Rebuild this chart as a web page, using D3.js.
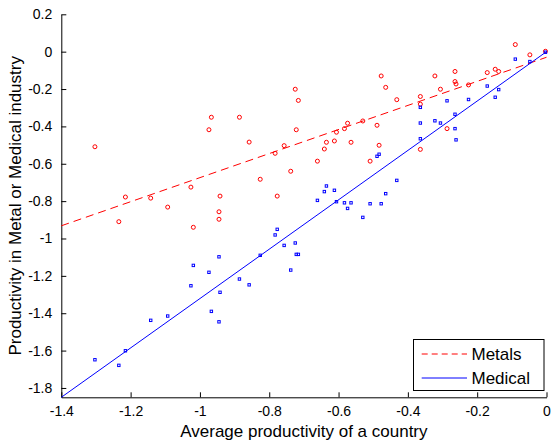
<!DOCTYPE html>
<html>
<head>
<meta charset="utf-8">
<script src="https://cdn.jsdelivr.net/npm/d3@7"></script>
<style>
  html, body { margin: 0; padding: 0; background: #fff; }
  svg { display: block; font-family: "Liberation Sans", Arial, sans-serif; }
</style>
</head>
<body>
<svg id="chart" width="552" height="441"></svg>
<script>
// ---- data ----
const avgProductivity = [
  -1.303, -1.234, -1.215, -1.142, -1.093, -1.026, -1.019, -0.974, -0.967, -0.945,
  -0.945, -0.942, -0.886, -0.858, -0.826, -0.783, -0.777, -0.757, -0.738, -0.725,
  -0.722, -0.716, -0.661, -0.641, -0.635, -0.612, -0.606, -0.583, -0.574, -0.564,
  -0.530, -0.509, -0.489, -0.483, -0.477, -0.464, -0.432, -0.364, -0.364, -0.364,
  -0.322, -0.306, -0.287, -0.264, -0.264, -0.261, -0.225, -0.171, -0.148, -0.138,
  -0.090, -0.048, -0.003
];
const metalsValues = [
  -0.509, -0.910, -0.778, -0.784, -0.832, -0.725, -0.940, -0.418, -0.351, -0.857,
  -0.897, -0.773, -0.351, -0.484, -0.683, -0.544, -0.773, -0.503, -0.640, -0.201,
  -0.418, -0.261, -0.586, -0.521, -0.485, -0.478, -0.431, -0.412, -0.383, -0.485,
  -0.371, -0.586, -0.394, -0.501, -0.130, -0.191, -0.257, -0.240, -0.281, -0.523,
  -0.130, -0.201, -0.412, -0.106, -0.160, -0.173, -0.178, -0.112, -0.094, -0.106,
   0.038, -0.017,  0.002
];
const medicalValues = [
  -1.649, -1.679, -1.601, -1.438, -1.415, -1.253, -1.144, -1.181, -1.390, -1.098,
  -1.446, -1.288, -1.217, -1.248, -1.090, -0.981, -0.951, -1.037, -1.169, -1.024,
  -1.085, -1.085, -0.796, -0.749, -0.719, -0.742, -0.803, -0.809, -0.839, -0.809,
  -0.887, -0.814, -0.560, -0.549, -0.814, -0.760, -0.689, -0.298, -0.382, -0.466,
  -0.370, -0.382, -0.263, -0.335, -0.412, -0.472, -0.256, -0.184, -0.244, -0.203,
  -0.040, -0.053, -0.003
];
// fitted lines (endpoints)
const fitX = [-1.4, 0];
const metalsFit = [-0.932, -0.030];
const medicalFit = [-1.85, 0.0];

const xTicks = [-1.4, -1.2, -1.0, -0.8, -0.6, -0.4, -0.2, 0];
const xTickLabels = ["-1.4", "-1.2", "-1", "-0.8", "-0.6", "-0.4", "-0.2", "0"];
const yTicks = [0.2, 0, -0.2, -0.4, -0.6, -0.8, -1.0, -1.2, -1.4, -1.6, -1.8];
const yTickLabels = ["0.2", "0", "-0.2", "-0.4", "-0.6", "-0.8", "-1", "-1.2", "-1.4", "-1.6", "-1.8"];

const seriesNames = ["Metals", "Medical"];
const xTitle = "Average productivity of a country";
const yTitle = "Productivity in Metal or Medical industry";

// ---- layout ----
const plot = { left: 61.3, right: 546.5, top: 14.3, bottom: 397.3 };
const RED = "#ff0000", BLUE = "#0000ff";

const svg = d3.select("#chart");
const x = d3.scaleLinear().domain([-1.4, 0]).range([plot.left, plot.right]);
const y = d3.scaleLinear().domain([-1.85, 0.2]).range([plot.bottom, plot.top]);

// axes (ticks inward, MATLAB style)
const xAxis = d3.axisBottom(x).tickValues(xTicks)
  .tickFormat((d, i) => xTickLabels[i]).tickSizeInner(-5).tickSizeOuter(0).tickPadding(9);
const yAxis = d3.axisLeft(y).tickValues(yTicks)
  .tickFormat((d, i) => yTickLabels[i]).tickSizeInner(-5).tickSizeOuter(0).tickPadding(9);

const gx = svg.append("g").attr("transform", `translate(0,${plot.bottom})`).call(xAxis);
const gy = svg.append("g").attr("transform", `translate(${plot.left},0)`).call(yAxis);
[gx, gy].forEach(g => {
  g.selectAll("text").attr("font-size", 14).attr("fill", "#000")
    .attr("font-family", "'Liberation Sans', Arial, sans-serif");
  g.selectAll("line").attr("stroke", "#000");
  g.select(".domain").attr("stroke", "#000");
});

// fit lines
const line = d3.line().x(d => x(d[0])).y(d => y(d[1]));
svg.append("path").datum(fitX.map((v, i) => [v, metalsFit[i]]))
  .attr("d", line).attr("fill", "none").attr("stroke", RED)
  .attr("stroke-width", 1).attr("stroke-dasharray", "8,5");
svg.append("path").datum(fitX.map((v, i) => [v, medicalFit[i]]))
  .attr("d", line).attr("fill", "none").attr("stroke", BLUE).attr("stroke-width", 1);

// points
svg.append("g").selectAll("circle").data(avgProductivity.map((v, i) => [v, metalsValues[i]]))
  .join("circle")
  .attr("cx", d => x(d[0])).attr("cy", d => y(d[1])).attr("r", 2)
  .attr("fill", "none").attr("stroke", RED).attr("stroke-width", 1);

const sq = 2.4;
svg.append("g").selectAll("rect").data(avgProductivity.map((v, i) => [v, medicalValues[i]]))
  .join("rect")
  .attr("x", d => x(d[0]) - sq / 2).attr("y", d => y(d[1]) - sq / 2)
  .attr("width", sq).attr("height", sq)
  .attr("fill", "none").attr("stroke", BLUE).attr("stroke-width", 1);

// axis titles
svg.append("text").attr("x", (plot.left + plot.right) / 2).attr("y", 437)
  .attr("text-anchor", "middle").attr("font-size", 17).text(xTitle);
svg.append("text").attr("transform", `translate(21,${(plot.top + plot.bottom) / 2}) rotate(-90)`)
  .attr("text-anchor", "middle").attr("font-size", 17).text(yTitle);

// legend
const lg = svg.append("g");
lg.append("rect").attr("x", 413.5).attr("y", 339.5).attr("width", 130.5).attr("height", 51)
  .attr("fill", "#fff").attr("stroke", "#000").attr("stroke-width", 1);
const legendItems = [
  { name: seriesNames[0], color: RED, dash: "6,4", cy: 354 },
  { name: seriesNames[1], color: BLUE, dash: null, cy: 378 }
];
legendItems.forEach(it => {
  lg.append("line").attr("x1", 421.7).attr("x2", 467).attr("y1", it.cy).attr("y2", it.cy)
    .attr("stroke", it.color).attr("stroke-width", 1)
    .attr("stroke-dasharray", it.dash);
  lg.append("text").attr("x", 471.5).attr("y", it.cy).attr("dy", "0.35em")
    .attr("font-size", 17).text(it.name);
});
</script>
</body>
</html>
